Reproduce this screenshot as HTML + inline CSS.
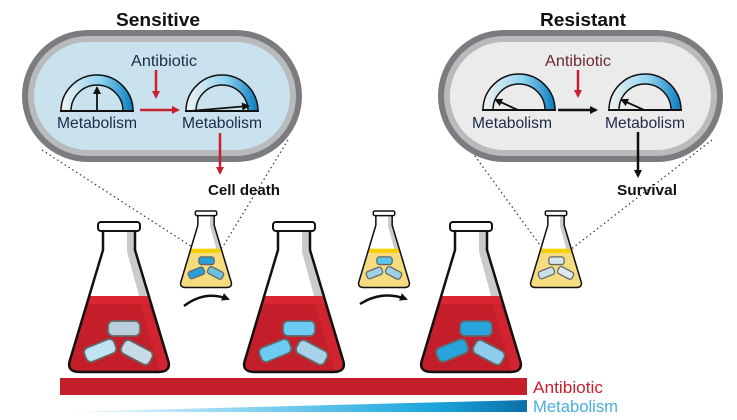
<!DOCTYPE html>
<html><head><meta charset="utf-8"><style>
html,body{margin:0;padding:0;background:#fff;width:737px;height:420px;overflow:hidden}
svg{display:block}
.t{font-family:"Liberation Sans",sans-serif;font-size:16px;fill:#1d2a4a}
.b{font-family:"Liberation Sans",sans-serif;font-weight:bold;fill:#111}
</style></head><body>
<svg width="737" height="420" viewBox="0 0 737 420" xmlns="http://www.w3.org/2000/svg">
<defs>
<linearGradient id="gg" x1="0" x2="1" y1="0" y2="0">
<stop offset="0" stop-color="#f2f2f2"/><stop offset="0.55" stop-color="#8fd3f0"/><stop offset="1" stop-color="#0a7cbf"/></linearGradient>
<linearGradient id="mb" x1="0" x2="1" y1="0" y2="0">
<stop offset="0" stop-color="#ffffff"/><stop offset="0.5" stop-color="#6cc8ec"/><stop offset="0.8" stop-color="#1aa6dc"/><stop offset="1" stop-color="#0a6fa8"/></linearGradient>
<marker id="ar" markerWidth="8" markerHeight="8" refX="6" refY="4" orient="auto" markerUnits="userSpaceOnUse"><path d="M0,0 L8,4 L0,8 Z" fill="#c8202e"/></marker>
<marker id="ak" markerWidth="8" markerHeight="8" refX="6" refY="4" orient="auto" markerUnits="userSpaceOnUse"><path d="M0,0 L8,4 L0,8 Z" fill="#111"/></marker>
<clipPath id="fc"><path d="M35,8 L35,28 L2,138 Q-2,150 12,150 L90,150 Q104,150 100,138 L67,28 L67,8 Z"/></clipPath>
<g id="gauge">
<path d="M-36,0 A36,36 0 0 1 36,0 L26,0 A26,26 0 0 0 -26,0 Z" fill="url(#gg)" stroke="#111" stroke-width="1.5"/>
<line x1="-37" y1="0" x2="37" y2="0" stroke="#111" stroke-width="2"/>
</g>
<g id="flaskR">
<g clip-path="url(#fc)">
<rect x="-5" y="0" width="115" height="160" fill="#fff"/>
<polygon points="59,8 67,8 67,28 104,150 92,150 59,30" fill="#c9cacc"/>
<rect x="-5" y="74" width="115" height="90" fill="#c41e2a"/>
<rect x="-5" y="74" width="115" height="8" fill="#d92632"/>
<polygon points="80,82 104,150 92,150 72,82" fill="#d72631" opacity="0.7"/>
</g>
<path d="M35,8 L35,28 L2,138 Q-2,150 12,150 L90,150 Q104,150 100,138 L67,28 L67,8 Z" fill="none" stroke="#111" stroke-width="2.5"/>
<rect x="30" y="0" width="42" height="9" rx="3" fill="#fff" stroke="#111" stroke-width="2"/>
</g>
<g id="flaskY">
<g clip-path="url(#fc)">
<rect x="-5" y="0" width="115" height="160" fill="#fff"/>
<polygon points="59,8 67,8 67,28 104,150 92,150 59,30" fill="#c9cacc"/>
<rect x="-5" y="74" width="115" height="90" fill="#f6dc80"/>
<rect x="-5" y="74" width="115" height="8" fill="#f5d000"/>
</g>
<path d="M35,8 L35,28 L2,138 Q-2,150 12,150 L90,150 Q104,150 100,138 L67,28 L67,8 Z" fill="none" stroke="#111" stroke-width="3"/>
<rect x="30" y="0" width="42" height="9" rx="3" fill="#fff" stroke="#111" stroke-width="3"/>
</g>
</defs>

<g stroke="#333" stroke-width="1.2" stroke-dasharray="1.5,3" fill="none">
<line x1="42" y1="150" x2="200" y2="252"/>
<line x1="288" y1="140" x2="222" y2="248"/>
<line x1="472" y1="152" x2="545" y2="252"/>
<line x1="712" y1="140" x2="570" y2="250"/>
</g>

<rect x="22" y="30" width="280" height="132" rx="66" fill="#7b7c7f"/>
<rect x="28" y="36" width="268" height="120" rx="60" fill="#b9babc"/>
<rect x="34" y="42" width="256" height="108" rx="54" fill="#c9e2ee"/>
<rect x="438" y="30" width="285" height="132" rx="66" fill="#7b7c7f"/>
<rect x="444" y="36" width="273" height="120" rx="60" fill="#b9babc"/>
<rect x="450" y="42" width="261" height="108" rx="54" fill="#ebebec"/>

<text x="158" y="26" class="b" font-size="18" text-anchor="middle" textLength="84" lengthAdjust="spacingAndGlyphs">Sensitive</text>
<text x="583" y="26" class="b" font-size="18" text-anchor="middle" textLength="86" lengthAdjust="spacingAndGlyphs">Resistant</text>

<use href="#gauge" x="97" y="111"/>
<line x1="97" y1="111" x2="97" y2="88" stroke="#111" stroke-width="1.8" marker-end="url(#ak)"/>
<use href="#gauge" x="222" y="111"/>
<line x1="190" y1="111" x2="248" y2="106" stroke="#111" stroke-width="1.8" marker-end="url(#ak)"/>
<text x="97" y="128" class="t" text-anchor="middle" textLength="80" lengthAdjust="spacingAndGlyphs">Metabolism</text>
<text x="222" y="128" class="t" text-anchor="middle" textLength="80" lengthAdjust="spacingAndGlyphs">Metabolism</text>
<text x="164" y="66" class="t" text-anchor="middle" textLength="66" lengthAdjust="spacingAndGlyphs">Antibiotic</text>
<line x1="156" y1="70" x2="156" y2="97" stroke="#c8202e" stroke-width="2.5" marker-end="url(#ar)"/>
<line x1="140" y1="110" x2="178" y2="110" stroke="#c8202e" stroke-width="2.5" marker-end="url(#ar)"/>
<line x1="220" y1="133" x2="220" y2="173" stroke="#c8202e" stroke-width="2.5" marker-end="url(#ar)"/>
<text x="244" y="195" class="b" font-size="15" text-anchor="middle" textLength="72" lengthAdjust="spacingAndGlyphs">Cell death</text>

<use href="#gauge" x="519" y="110"/>
<line x1="518" y1="110" x2="496" y2="100" stroke="#111" stroke-width="1.8" marker-end="url(#ak)"/>
<use href="#gauge" x="645" y="110"/>
<line x1="644" y1="110" x2="622" y2="100" stroke="#111" stroke-width="1.8" marker-end="url(#ak)"/>
<text x="512" y="128" class="t" text-anchor="middle" textLength="80" lengthAdjust="spacingAndGlyphs">Metabolism</text>
<text x="645" y="128" class="t" text-anchor="middle" textLength="80" lengthAdjust="spacingAndGlyphs">Metabolism</text>
<text x="578" y="66" class="t" text-anchor="middle" style="fill:#6a2a32" textLength="66" lengthAdjust="spacingAndGlyphs">Antibiotic</text>
<line x1="578" y1="70" x2="578" y2="96" stroke="#c8202e" stroke-width="2.5" marker-end="url(#ar)"/>
<line x1="558" y1="110" x2="596" y2="110" stroke="#111" stroke-width="2.5" marker-end="url(#ak)"/>
<line x1="638" y1="132" x2="638" y2="176" stroke="#111" stroke-width="2.5" marker-end="url(#ak)"/>
<text x="647" y="195" class="b" font-size="15" text-anchor="middle" textLength="60" lengthAdjust="spacingAndGlyphs">Survival</text>

<g transform="translate(68,222)"><use href="#flaskR"/>
<rect x="40" y="99" width="32" height="15" rx="5" fill="#b9cfdb" stroke="#666" stroke-width="1.8"/>
<rect x="16" y="121" width="32" height="15" rx="5" fill="#bfe3f3" stroke="#666" stroke-width="1.8" transform="rotate(-22 32 128)"/>
<rect x="53" y="123" width="32" height="15" rx="5" fill="#c6dbe6" stroke="#666" stroke-width="1.8" transform="rotate(28 69 130)"/>
</g>
<g transform="translate(243,222)"><use href="#flaskR"/>
<rect x="40" y="99" width="32" height="15" rx="5" fill="#6ccbf3" stroke="#666" stroke-width="1.8"/>
<rect x="16" y="121" width="32" height="15" rx="5" fill="#6ccbf3" stroke="#666" stroke-width="1.8" transform="rotate(-22 32 128)"/>
<rect x="53" y="123" width="32" height="15" rx="5" fill="#a8d2ea" stroke="#666" stroke-width="1.8" transform="rotate(28 69 130)"/>
</g>
<g transform="translate(420,222)"><use href="#flaskR"/>
<rect x="40" y="99" width="32" height="15" rx="5" fill="#28a3dc" stroke="#666" stroke-width="1.8"/>
<rect x="16" y="121" width="32" height="15" rx="5" fill="#28a3dc" stroke="#666" stroke-width="1.8" transform="rotate(-22 32 128)"/>
<rect x="53" y="123" width="32" height="15" rx="5" fill="#8fcdee" stroke="#666" stroke-width="1.8" transform="rotate(28 69 130)"/>
</g>

<g transform="translate(180,211) scale(0.51)"><use href="#flaskY"/>
<rect x="37" y="90" width="30" height="15" rx="5" fill="#2a9fd8" stroke="#666" stroke-width="2.5"/>
<rect x="16" y="114" width="32" height="15" rx="5" fill="#2a9fd8" stroke="#666" stroke-width="2.5" transform="rotate(-22 32 121)"/>
<rect x="54" y="114" width="32" height="15" rx="5" fill="#6cc0dc" stroke="#666" stroke-width="2.5" transform="rotate(28 70 121)"/>
</g>
<g transform="translate(358,211) scale(0.51)"><use href="#flaskY"/>
<rect x="37" y="90" width="30" height="15" rx="5" fill="#5cc4ee" stroke="#666" stroke-width="2.5"/>
<rect x="16" y="114" width="32" height="15" rx="5" fill="#9dd0e4" stroke="#666" stroke-width="2.5" transform="rotate(-22 32 121)"/>
<rect x="54" y="114" width="32" height="15" rx="5" fill="#9dd0e4" stroke="#666" stroke-width="2.5" transform="rotate(28 70 121)"/>
</g>
<g transform="translate(530,211) scale(0.51)"><use href="#flaskY"/>
<rect x="37" y="90" width="30" height="15" rx="5" fill="#d6e6ee" stroke="#666" stroke-width="2.5"/>
<rect x="16" y="114" width="32" height="15" rx="5" fill="#c8dfea" stroke="#666" stroke-width="2.5" transform="rotate(-22 32 121)"/>
<rect x="54" y="114" width="32" height="15" rx="5" fill="#dde9ef" stroke="#666" stroke-width="2.5" transform="rotate(28 70 121)"/>
</g>

<path d="M184,306 Q205,290 228,299" fill="none" stroke="#111" stroke-width="2.5" marker-end="url(#ak)"/>
<path d="M360,304 Q382,290 406,299" fill="none" stroke="#111" stroke-width="2.5" marker-end="url(#ak)"/>

<rect x="60" y="378" width="467" height="17" fill="#c41e2a"/>
<polygon points="60,412 527,400 527,412" fill="url(#mb)"/>
<text x="533" y="393" font-family="Liberation Sans,sans-serif" font-size="17" fill="#c8202e" textLength="70" lengthAdjust="spacingAndGlyphs">Antibiotic</text>
<text x="533" y="412" font-family="Liberation Sans,sans-serif" font-size="17" fill="#4aaedc" textLength="85" lengthAdjust="spacingAndGlyphs">Metabolism</text>
</svg>
</body></html>
